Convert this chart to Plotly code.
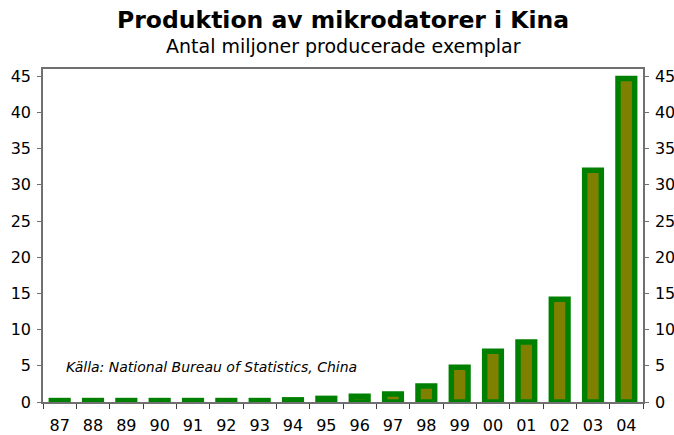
import plotly.graph_objects as go

years = ["87", "88", "89", "90", "91", "92", "93", "94", "95", "96",
         "97", "98", "99", "00", "01", "02", "03", "04"]
production = [0.2, 0.2, 0.2, 0.2, 0.2, 0.2, 0.2, 0.3, 0.5, 0.8,
              1.1, 2.2, 4.8, 7.0, 8.3, 14.2, 32.0, 44.7]
y_ticks = [0, 5, 10, 15, 20, 25, 30, 35, 40, 45]

FONT = "DejaVu Sans"
AXIS = "#707070"

fig = go.Figure()
fig.add_trace(go.Bar(
    x=years, y=production, width=0.5,
    marker=dict(color="#808000", line=dict(color="#008000", width=5.5)),
    showlegend=False,
))
# invisible trace to activate the right-hand axis
fig.add_trace(go.Scatter(x=years, y=production, yaxis="y2", mode="none",
                         showlegend=False, hoverinfo="skip"))

yrange = [0, 46]
common_y = dict(
    range=yrange, tickvals=y_ticks, showgrid=False, zeroline=False,
    ticks="outside", ticklen=4, tickcolor=AXIS, tickwidth=1,
    showline=True, linecolor=AXIS, linewidth=1.5, automargin=False,
    ticklabelstandoff=3,
    tickfont=dict(family=FONT, size=16, color="black"),
)
fig.update_layout(
    width=674, height=435,
    margin=dict(l=43, r=31, t=69, b=33),
    paper_bgcolor="white", plot_bgcolor="white",
    font=dict(family=FONT, color="black", size=16),
    xaxis=dict(
        type="category", showgrid=False, zeroline=False,
        ticks="outside", tickson="boundaries", ticklen=5, tickcolor="#404040",
        showline=True, linecolor=AXIS, linewidth=1.5, mirror=True,
        automargin=False, ticklabelstandoff=8,
        tickfont=dict(family=FONT, size=16, color="black"),
    ),
    yaxis=common_y,
    yaxis2=dict(overlaying="y", side="right", **common_y),
    annotations=[
        dict(text="<b>Produktion av mikrodatorer i Kina</b>", x=0.5, xref="paper",
             y=1, yref="paper", yanchor="bottom", yshift=33, showarrow=False,
             font=dict(family=FONT, size=23.5, color="black")),
        dict(text="Antal miljoner producerade exemplar", x=0.5, xref="paper",
             y=1, yref="paper", yanchor="bottom", yshift=10, showarrow=False,
             font=dict(family=FONT, size=19, color="black")),
        dict(text="<i>Källa: National Bureau of Statistics, China</i>",
             x=0.035, xref="paper", xanchor="left",
             y=4.8, yref="y", yanchor="middle", showarrow=False,
             font=dict(family=FONT, size=14, color="black")),
    ],
)

fig.write_html("out.html", config={"displayModeBar": False},
               post_script="document.body.style.margin='0';document.body.style.overflow='hidden';")
